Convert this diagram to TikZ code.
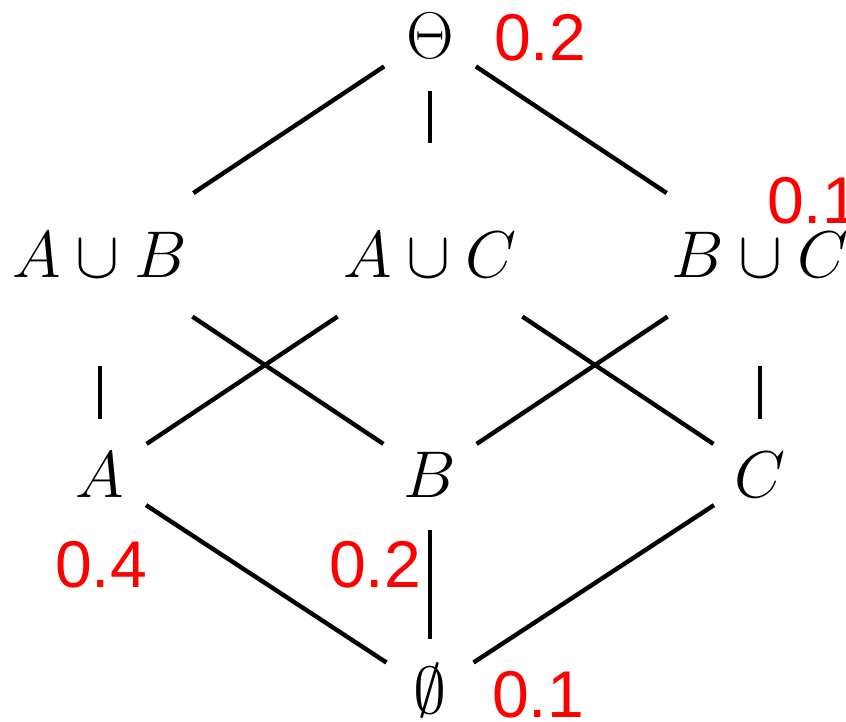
\RequirePackage{fix-cm}
\documentclass[tikz,border=0pt]{standalone}
\usepackage{fontspec}
\newfontfamily\numfont{Liberation Sans}
\begin{document}
\begin{tikzpicture}[
    x = 0.01cm,
    y = -0.01cm,
    set/.style = {
        inner sep = 0pt,
        font = \fontsize{18.8}{22}\selectfont
    },
    mass/.style = {
        anchor = base,
        inner sep = 0pt,
        text = red,
        font = \fontsize{18.8}{22}\selectfont\numfont
    },
    toplink/.style = {
        line width = 1.25pt,
        shorten <= 0.55cm,
        shorten >= 1.12cm
    },
    midlink/.style = {
        line width = 1.25pt,
        shorten <= 1.11cm,
        shorten >= 0.56cm
    },
    lowlink/.style = {
        line width = 1.25pt,
        shorten <= 0.55cm,
        shorten >= 0.52cm
    }
]
    \useasboundingbox (0,0) rectangle (846,721);

    % Top element
    \node [set] (top) at (430,36) {$\Theta$};

    % Pairs (upper row)
    \node [set] (ab) at (100,255) {$A\cup B$};
    \node [set] (ac) at (430,255) {$A\cup C$};
    \node [set] (bc) at (760,255) {$B\cup C$};

    % Singletons (lower row)
    \node [set] (a) at (100,475) {$A$};
    \node [set] (b) at (430,475) {$B$};
    \node [set] (c) at (760,475) {$C$};

    % Bottom element
    \node [set] (empty) at (430,691) {$\emptyset$};

    % Masses
    \node [mass] (mtop) at (540,60) {0.2};
    \node [mass] (mbc) at (813,223) {0.1};
    \node [mass] (ma) at (101,587) {0.4};
    \node [mass] (mb) at (375,587) {0.2};
    \node [mass] (mempty) at (538,717) {0.1};

    % Top to pairs
    \draw [toplink] (top.center) -- (ab.center);
    \draw [toplink] (top.center) -- (ac.center);
    \draw [toplink] (top.center) -- (bc.center);

    % Pairs to singletons
    \draw [midlink] (ab.center) -- (a.center);
    \draw [midlink] (ab.center) -- (b.center);
    \draw [midlink] (ac.center) -- (a.center);
    \draw [midlink] (ac.center) -- (c.center);
    \draw [midlink] (bc.center) -- (b.center);
    \draw [midlink] (bc.center) -- (c.center);

    % Singletons to bottom
    \draw [lowlink] (a.center) -- (empty.center);
    \draw [lowlink] (b.center) -- (empty.center);
    \draw [lowlink] (c.center) -- (empty.center);

\end{tikzpicture}
\end{document}
